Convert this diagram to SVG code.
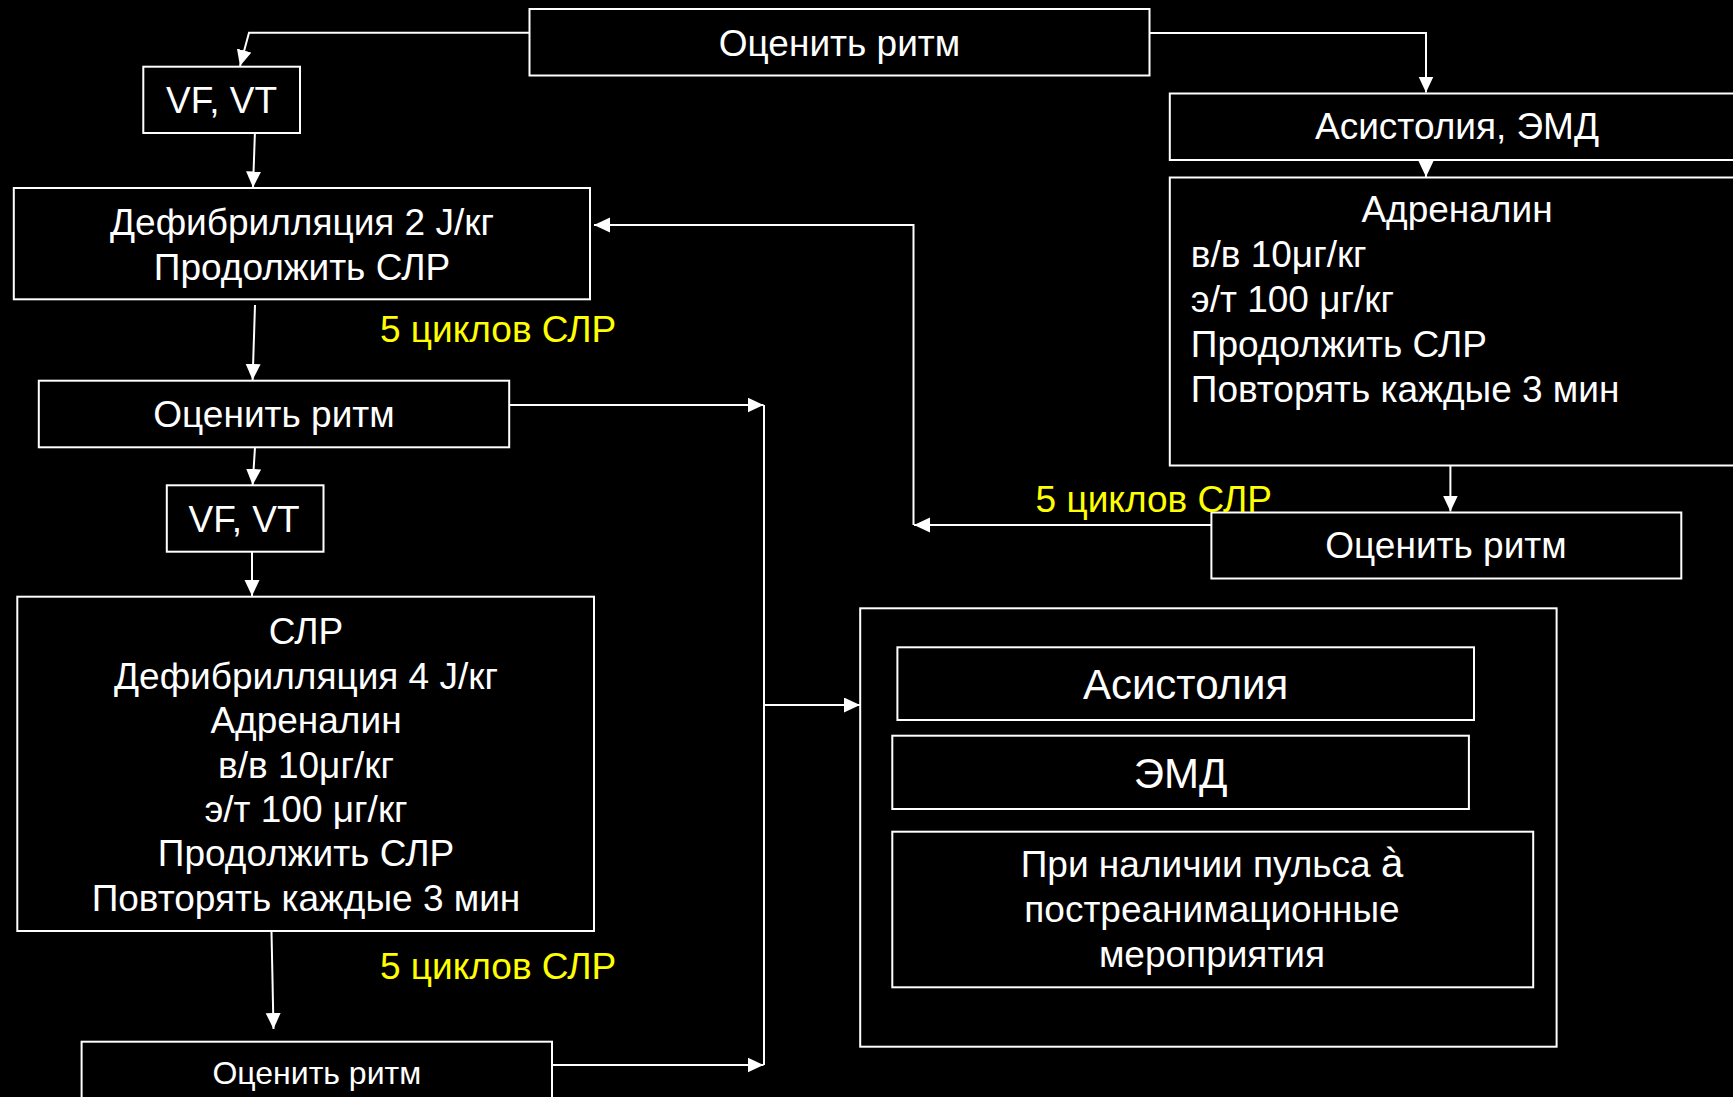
<svg xmlns="http://www.w3.org/2000/svg" width="1733" height="1097" viewBox="0 0 1733 1097">
<defs>
<style>
.box{fill:#000;stroke:#fff;stroke-width:2}
.t{fill:#fff;font-family:"Liberation Sans",Arial,sans-serif;font-size:37px;text-anchor:middle}
.l{text-anchor:start}
.big{font-size:42px}
.sm{font-size:32px}
.y{fill:#ffff00;font-family:"Liberation Sans",Arial,sans-serif;font-size:37px}
.c{fill:none;stroke:#fff;stroke-width:2}
.a{marker-end:url(#arr)}
</style>
<marker id="arr" markerUnits="userSpaceOnUse" markerWidth="18" markerHeight="16" refX="16" refY="7.5" orient="auto">
<path d="M0,0 L16,7.5 L0,15 z" fill="#fff"/>
</marker>
</defs>
<rect x="0" y="0" width="1733" height="1097" fill="#000"/>

<g id="connectors">
<path class="c a" d="M529.5,32.7 H249 L240,66"/>
<path class="c a" d="M1149.5,33 H1426 V92.5"/>
<path class="c a" d="M255,130 L253,187.5"/>
<path class="c a" d="M255,305 L252.6,380"/>
<path class="c a" d="M255,447 L252.6,485"/>
<path class="c a" d="M252,537 L252,596"/>
<path class="c a" d="M271.4,926.7 L273.5,1029"/>
<path class="c a" d="M509.2,405 H763.5"/>
<path class="c a" d="M552,1065 H763.5"/>
<path class="c" d="M764,405 V1065"/>
<path class="c a" d="M764,705 H860"/>
<path class="c a" d="M1426,141.7 V177"/>
<path class="c a" d="M1450.4,448 V511.5"/>
<path class="c a" d="M1211.4,525 H914"/>
<path class="c a" d="M913.5,525 V225 H594"/>
</g>

<g id="n-top"><rect class="box" x="529.5" y="9" width="620" height="66.5"/><text class="t" x="839.5" y="56">Оценить ритм</text></g>
<g id="n-vf1"><rect class="box" x="143.3" y="66.7" width="156.7" height="66.3"/><text class="t" x="221.5" y="113">VF, VT</text></g>
<g id="n-defib1"><rect class="box" x="13.8" y="188" width="576.2" height="111.3"/><text class="t" x="302" y="235">Дефибрилляция 2 J/кг</text><text class="t" x="302" y="280">Продолжить СЛР</text></g>
<g id="n-rhythm2"><rect class="box" x="38.8" y="380.7" width="470.4" height="66.6"/><text class="t" x="274" y="427">Оценить ритм</text></g>
<g id="n-vf2"><rect class="box" x="166.8" y="485.3" width="156.7" height="66.4"/><text class="t" x="244" y="532">VF, VT</text></g>
<g id="n-slp"><rect class="box" x="17.3" y="596.7" width="576.7" height="334.3"/>
<text class="t" x="306" y="644">СЛР</text>
<text class="t" x="306" y="689">Дефибрилляция 4 J/кг</text>
<text class="t" x="306" y="733">Адреналин</text>
<text class="t" x="306" y="778">в/в 10μг/кг</text>
<text class="t" x="306" y="822">э/т 100 μг/кг</text>
<text class="t" x="306" y="866">Продолжить СЛР</text>
<text class="t" x="306" y="911">Повторять каждые 3 мин</text></g>
<g id="n-rhythm3"><rect class="box" x="81.6" y="1041.7" width="470.4" height="80"/><text class="t sm" x="316.8" y="1084">Оценить ритм</text></g>
<g id="n-asysemd"><rect class="box" x="1169.8" y="93.5" width="580" height="66.5"/><text class="t" x="1457" y="139">Асистолия, ЭМД</text></g>
<g id="n-adren"><rect class="box" x="1169.8" y="177.5" width="580" height="288"/>
<text class="t" x="1457" y="222">Адреналин</text>
<text class="t l" x="1190.8" y="267">в/в 10μг/кг</text>
<text class="t l" x="1190.8" y="312">э/т 100 μг/кг</text>
<text class="t l" x="1190.8" y="357">Продолжить СЛР</text>
<text class="t l" x="1190.8" y="402">Повторять каждые 3 мин</text></g>
<g id="n-rhythm4"><rect class="box" x="1211.4" y="512.5" width="469.9" height="66"/><text class="t" x="1446" y="558">Оценить ритм</text></g>
<g id="n-group"><rect class="box" x="860.2" y="608.3" width="696.4" height="438.4"/></g>
<g id="n-asys"><rect class="box" x="897.4" y="647.3" width="576.6" height="72.7"/><text class="t big" x="1185.6" y="699">Асистолия</text></g>
<g id="n-emd"><rect class="box" x="892.3" y="735.7" width="576.6" height="73.3"/><text class="t big" x="1180.6" y="788">ЭМД</text></g>
<g id="n-pulse"><rect class="box" x="892.3" y="831.7" width="640.9" height="155.6"/>
<text class="t" x="1212" y="877">При наличии пульса <tspan font-size="40">à</tspan></text>
<text class="t" x="1212" y="922">постреанимационные</text>
<text class="t" x="1212" y="967">мероприятия</text></g>

<g id="labels">
<text class="y" x="380" y="342">5 циклов СЛР</text>
<text class="y" x="380" y="979">5 циклов СЛР</text>
<text class="y" x="1035.6" y="512">5 циклов СЛР</text>
</g>
</svg>
